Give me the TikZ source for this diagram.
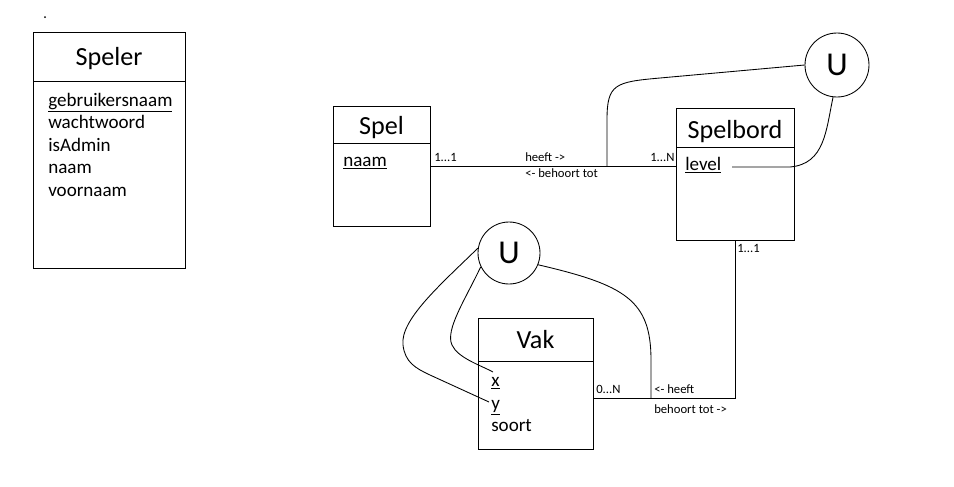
\documentclass[tikz,border=0pt]{standalone}
\usepackage{fontspec}
\setmainfont{Carlito}
\usepackage{tikz}

\begin{document}
\begin{tikzpicture}[
  x=0.75pt,
  y=-0.75pt,
  box/.style={draw,line width=0.75pt,inner sep=0pt,anchor=north west},
  title/.style={font=\fontsize{19.6}{22}\selectfont,anchor=base,inner sep=0pt},
  attr/.style={font=\fontsize{14.3}{17}\selectfont,anchor=base west,inner sep=0pt},
  card/.style={font=\fontsize{9.5}{11}\selectfont,anchor=base west,inner sep=0pt},
  link/.style={line width=0.75pt},
  arc/.style={line width=0.65pt},
  union/.style={draw,circle,line width=0.65pt,inner sep=0pt,font=\fontsize{25}{28}\selectfont},
  dot/.style={fill,circle,inner sep=0pt,minimum size=1.5pt}
]
\useasboundingbox (0,0) rectangle (954,486);
\node[dot] (dot) at (45,17) {};
% entities
\node[box,minimum width=114pt,minimum height=177pt] (speler) at (33,32) {};
\node[box,minimum width=72.75pt,minimum height=90pt] (spel) at (333,106) {};
\node[box,minimum width=88.5pt,minimum height=99pt] (spelbord) at (676,108) {};
\node[box,minimum width=86.25pt,minimum height=98.25pt] (vak) at (478,318) {};
\draw[link] (33,81) -- (185,81);
\draw[link] (333,143) -- (430,143);
\draw[link] (676,147) -- (794,147);
\draw[link] (478,361) -- (593,361);
\node[title] (spelerT) at (109,65) {Speler};
\node[title] (spelT) at (381.5,134) {Spel};
\node[title] (spelbordT) at (735,138) {Spelbord};
\node[title] (vakT) at (535.5,348) {Vak};
% attributes
\node[attr] (gebruikersnaam) at (48,106) {\underline{gebruikersnaam}};
\node[attr] (wachtwoord) at (48,128.5) {wachtwoord};
\node[attr] (isAdmin) at (48,151) {isAdmin};
\node[attr] (naamS) at (48,173.5) {naam};
\node[attr] (voornaam) at (48,196) {voornaam};
\node[attr] (naam) at (343,166) {\underline{naam}};
\node[attr] (level) at (685,170) {\underline{level}};
\node[attr] (vx) at (491,386.5) {\underline{x}};
\node[attr] (vy) at (491,409) {\underline{y}};
\node[attr] (soort) at (491,431.5) {soort};
% relations
\coordinate (vakR) at (593,398);
\coordinate (j1) at (607,166);
\coordinate (j2) at (651,398);
\draw[link] (spel.east) -- (spel.east -| spelbord.west);
\draw[link] (spelbord.south) |- (vakR);
\node[card] (c11) at (434,161.7) {1...1};
\node[card] (heeft) at (525,161.7) {heeft ->};
\node[card] (behoort) at (525,177) {<- behoort tot};
\node[card] (c1N) at (650,161.7) {1...N};
\node[card] (c11b) at (737,252.7) {1...1};
\node[card] (c0N) at (596,393) {0...N};
\node[card] (heeftb) at (654,393) {<- heeft};
\node[card] (behoortb) at (654,413) {behoort tot ->};
% unions
\node[union,minimum size=48pt] (u1) at (837,65) {U};
\node[union,minimum size=46.5pt] (u2) at (509,253) {U};
\coordinate (lvl) at (732,167);
\coordinate (xend) at (493,372);
\coordinate (yend) at (489,402);
\draw[arc] (j1) -- (607,120) .. controls (607,84) and (615,82) .. (660,78) -- (u1.west);
\draw[arc] (lvl) -- (790,167) .. controls (825,164) and (826,130) .. (u1.263);
\draw[arc] (u2.338) .. controls (625,285) and (651,300) .. (651,360) -- (j2);
\draw[arc] (u2.206) .. controls (465,300) and (445,330) .. (452,345) .. controls (458,358) and (480,365) .. (xend);
\draw[arc] (u2.171) .. controls (440,285) and (400,320) .. (403,345) .. controls (405,362) and (415,368) .. (430,375) -- (yend);
\end{tikzpicture}
\end{document}
